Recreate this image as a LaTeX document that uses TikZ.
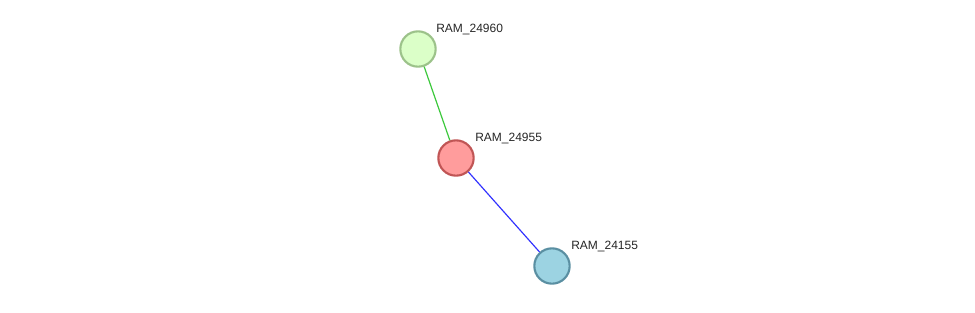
\documentclass[tikz,border=0pt]{standalone}
\usepackage{fontspec}
\setmainfont{Liberation Sans}
\begin{document}
\begin{tikzpicture}[x=0.75pt,y=-0.75pt,
  prot/.style={circle,minimum size=26.5pt,inner sep=0pt,line width=1.6pt},
  lbl/.style={anchor=base west,inner sep=0pt,font=\fontsize{9pt}{11pt}\selectfont,text=black!85},
  edge/.style={line width=0.9pt}]
\useasboundingbox (0,0) rectangle (975,312);
\definecolor{gfill}{HTML}{DBFFC8}\definecolor{gdraw}{HTML}{9CC28A}
\definecolor{rfill}{HTML}{FF9C9C}\definecolor{rdraw}{HTML}{C05555}
\definecolor{bfill}{HTML}{9CD3E2}\definecolor{bdraw}{HTML}{5A8FA2}
\node[prot,fill=gfill,draw=gdraw] (g) at (418,49) {};
\node[prot,fill=rfill,draw=rdraw] (r) at (456,158) {};
\node[prot,fill=bfill,draw=bdraw] (b) at (552,266) {};
\draw[edge,draw={rgb,255:red,60;green,200;blue,60}] (g) -- (r);
\draw[edge,draw={rgb,255:red,50;green,50;blue,255}] (r) -- (b);
\node[lbl] (gl) at (436,32) {RAM\_24960};
\node[lbl] (rl) at (475,141) {RAM\_24955};
\node[lbl] (bl) at (571,249) {RAM\_24155};
\end{tikzpicture}
\end{document}
